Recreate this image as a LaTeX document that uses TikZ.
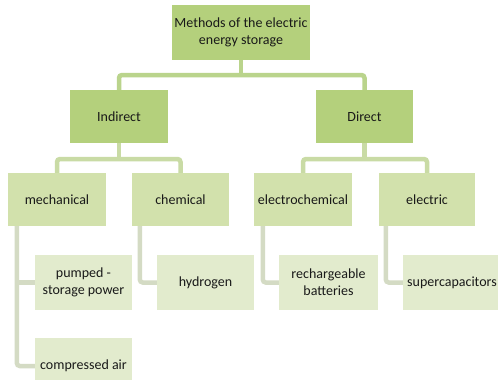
\documentclass[tikz,border=0pt]{standalone}
\usepackage{fontspec}
\setmainfont{Carlito}
\begin{document}
\begin{tikzpicture}[x=1pt,y=-1pt,
  box/.style={rectangle, inner sep=1pt, align=center, text=black!90,
    font=\fontsize{14}{17}\selectfont, minimum height=53pt},
  lvtop/.style={box, fill=lvA},
  lvmid/.style={box, fill=lvB},
  lvleaf/.style={box, fill=lvC, minimum height=55pt},
  conA/.style={draw=conAcol, line width=4.5pt, rounded corners=3pt},
  conB/.style={draw=conBcol, line width=4.5pt, rounded corners=3pt},
  conC/.style={draw=conCcol, line width=4.5pt, rounded corners=3pt}]
\definecolor{lvA}{RGB}{180,208,124}
\definecolor{lvB}{RGB}{210,225,172}
\definecolor{lvC}{RGB}{226,235,205}
\definecolor{conAcol}{RGB}{186,212,140}
\definecolor{conBcol}{RGB}{201,219,165}
\definecolor{conCcol}{RGB}{212,219,196}
\clip (0,0) rectangle (498,380);
\fill[white] (0,0) rectangle (498,380);

\node[lvtop, minimum width=138pt, minimum height=55pt] (root) at (241,32.5) {Methods of the electric\\energy storage};
\node[lvtop, minimum width=98pt] (ind) at (119,116.5) {Indirect};
\node[lvtop, minimum width=97pt] (dir) at (364.5,116.5) {Direct};

\node[lvmid, minimum width=98pt] (mech) at (57,199.5) {mechanical};
\node[lvmid, minimum width=97pt] (chem) at (180.5,199.5) {chemical};
\node[lvmid, minimum width=98pt] (echem) at (303,199.5) {electrochemical};
\node[lvmid, minimum width=96pt] (elec) at (427,199.5) {electric};

\node[lvleaf, minimum width=97pt] (pump) at (83.5,282.5) {pumped -\\storage power};
\node[lvleaf, minimum width=97pt, minimum height=56pt] (comp) at (83.5,366) {compressed air};
\node[lvleaf, minimum width=97pt] (hyd) at (205.5,282.5) {hydrogen};
\node[lvleaf, minimum width=99pt] (batt) at (328.5,282.5) {rechargeable\\batteries};
\node[lvleaf, minimum width=98pt] (sup) at (452,282.5) {supercapacitors};

% level 0 -> 1
\coordinate (b0) at (241,75);
\draw[conA] (root.south) -- (root.south |- b0);
\draw[conA] (ind.north) -- (ind.north |- b0) -- (dir.north |- b0) -- (dir.north);
% level 1 -> 2
\coordinate (b1) at (0,159);
\draw[conB] (ind.south) -- (ind.south |- b1);
\draw[conB] (mech.north) -- (mech.north |- b1) -- (chem.north |- b1) -- (chem.north);
\draw[conB] (dir.south) -- (dir.south |- b1);
\draw[conB] (echem.north) -- (echem.north |- b1) -- (elec.north |- b1) -- (elec.north);
% level 2 -> 3
\coordinate (m0) at ([xshift=9pt]mech.south west);
\coordinate (c0) at ([xshift=8pt]chem.south west);
\coordinate (e0) at ([xshift=9pt]echem.south west);
\coordinate (l0) at ([xshift=7pt]elec.south west);
\draw[conC] (m0) -- (m0 |- comp.west) -- (comp.west);
\draw[conC] (m0 |- pump.west) -- (pump.west);
\draw[conC] (c0) -- (c0 |- hyd.west) -- (hyd.west);
\draw[conC] (e0) -- (e0 |- batt.west) -- (batt.west);
\draw[conC] (l0) -- (l0 |- sup.west) -- (sup.west);
\end{tikzpicture}
\end{document}
